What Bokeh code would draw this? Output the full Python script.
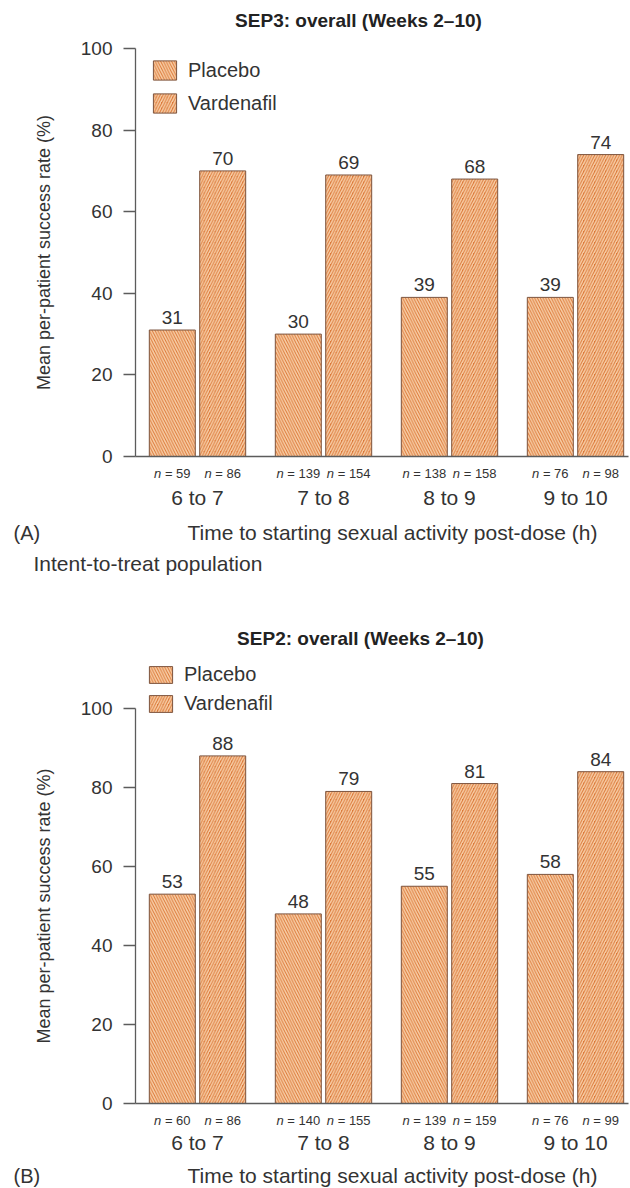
from bokeh.plotting import figure
from bokeh.models import (Range1d, FixedTicker, Legend, LegendItem, Label,
                          LabelSet, ColumnDataSource)
from bokeh.layouts import column
from bokeh.transform import dodge
from bokeh.embed import file_html
from bokeh.resources import INLINE
from bokeh.core.properties import value

# ---------------- data ----------------
categories = ["6 to 7", "7 to 8", "8 to 9", "9 to 10"]
series = ["Placebo", "Vardenafil"]

sep3_title = "SEP3: overall (Weeks 2\u201310)"
sep3_placebo = [31, 30, 39, 39]
sep3_vardenafil = [70, 69, 68, 74]
sep3_n_placebo = [59, 139, 138, 76]
sep3_n_vardenafil = [86, 154, 158, 98]

sep2_title = "SEP2: overall (Weeks 2\u201310)"
sep2_placebo = [53, 48, 55, 58]
sep2_vardenafil = [88, 79, 81, 84]
sep2_n_placebo = [60, 140, 139, 76]
sep2_n_vardenafil = [86, 155, 159, 99]

y_ticks = [0, 20, 40, 60, 80, 100]
y_title = "Mean per-patient success rate (%)"
x_title = "Time to starting sexual activity post-dose (h)"
population_note = "Intent-to-treat population"

# ---------------- style ----------------
FONT = "Liberation Sans"
TEXT = "#333333"
AXIS = "#5c5c5c"
FILL = "#db7838"
HATCH = "#f8cfa8"
EDGE = "#7d5640"

FIG_W = 630
AXIS_X = 135          # x of the value axis
FIRST_GROUP_X = 197   # centre of first group
PX_PER_GROUP = 126.0
DODGE = 0.2
BAR_W = 0.365


def gx(px):
    """horizontal pixel -> group coordinate"""
    return (px - FIRST_GROUP_X) / PX_PER_GROUP


def text_w(s, size):
    w = 0.0
    for ch in s:
        if ch == " ":
            w += 0.278
        elif ch == "=":
            w += 0.584
        else:
            w += 0.556
    return w * size


def make_chart(title, placebo, vard, n_p, n_v, letter, top, fig_h, zero_px,
               ppu, title_y, title_x, n_y, xtitle_y, cat_standoff,
               legend_xy, glyph_h, legend_spacing, label_h, note_y=None):
    def gy(py):
        return (zero_px - py) / ppu

    p = figure(width=FIG_W, height=fig_h,
               x_range=Range1d(gx(0), gx(FIG_W)),
               y_range=Range1d(gy(top + fig_h), gy(top)),
               output_backend="svg", toolbar_location=None,
               min_border=0, min_border_left=0, min_border_right=0,
               min_border_top=0, min_border_bottom=0)
    p.outline_line_color = None
    p.xgrid.visible = False
    p.ygrid.visible = False
    p.background_fill_color = "white"
    p.border_fill_color = "white"

    xs = list(range(len(categories)))
    NS = 13
    SP = text_w(" ", NS)

    def offs(ns):
        out = []
        for n in ns:
            total = text_w("n", NS) + SP + text_w("= %d" % n, NS)
            out.append(-total / 2.0 + text_w("n", NS))
        return out

    np_off = offs(n_p)
    nv_off = offs(n_v)
    src = ColumnDataSource(dict(
        x=xs, placebo=placebo, vard=vard,
        placebo_lbl=[str(v) for v in placebo],
        vard_lbl=[str(v) for v in vard],
        n_sym=["n"] * len(xs),
        np_rest=["= %d" % n for n in n_p],
        nv_rest=["= %d" % n for n in n_v],
        np_off=np_off, nv_off=nv_off,
        np_off2=[o + SP for o in np_off], nv_off2=[o + SP for o in nv_off],
    ))

    common = dict(source=src, width=BAR_W, fill_color=FILL,
                  hatch_color=HATCH, hatch_scale=5.5, hatch_weight=1.5,
                  line_color=EDGE, line_width=1)
    r1 = p.vbar(x=dodge("x", -DODGE, range=p.x_range), top="placebo",
                hatch_pattern="left_diagonal_line", **common)
    r2 = p.vbar(x=dodge("x", DODGE, range=p.x_range), top="vard",
                hatch_pattern="right_diagonal_line", **common)

    for key, off in (("placebo", -DODGE), ("vard", DODGE)):
        p.text(x=dodge("x", off, range=p.x_range), y=key,
               text=key + "_lbl", source=src, text_align="center",
               text_baseline="bottom", y_offset=-6,
               text_font=value(FONT), text_font_size="19px",
               text_color=TEXT)

    for off, rest, xo, xo2 in ((-DODGE, "np_rest", "np_off", "np_off2"),
                               (DODGE, "nv_rest", "nv_off", "nv_off2")):
        p.add_layout(LabelSet(x=dodge("x", off, range=p.x_range), y=gy(n_y),
                              text="n_sym", source=src, x_offset=xo,
                              text_align="right",
                              text_baseline="middle", text_font=value(FONT),
                              text_font_style="italic",
                              text_font_size="%dpx" % NS, text_color=TEXT))
        p.add_layout(LabelSet(x=dodge("x", off, range=p.x_range), y=gy(n_y),
                              text=rest, source=src, x_offset=xo2,
                              text_align="left",
                              text_baseline="middle", text_font=value(FONT),
                              text_font_size="%dpx" % NS, text_color=TEXT))

    # category axis, drawn at value 0
    xa = p.xaxis[0]
    xa.fixed_location = 0
    xa.bounds = (gx(AXIS_X), gx(FIG_W - 2))
    xa.ticker = FixedTicker(ticks=xs)
    xa.major_label_overrides = {i: c for i, c in zip(xs, categories)}
    xa.major_tick_out = 0
    xa.major_tick_in = 0
    xa.minor_tick_line_color = None
    xa.major_tick_line_color = None
    xa.axis_line_color = AXIS
    xa.axis_line_width = 1.3
    xa.major_label_standoff = cat_standoff
    xa.major_label_text_font = FONT
    xa.major_label_text_font_size = "21px"
    xa.major_label_text_color = TEXT

    ya = p.yaxis[0]
    ya.fixed_location = gx(AXIS_X)
    ya.ticker = FixedTicker(ticks=y_ticks)
    ya.bounds = (0, 100)
    ya.major_tick_out = 12
    ya.major_tick_in = 0
    ya.minor_tick_line_color = None
    ya.major_tick_line_color = AXIS
    ya.major_tick_line_width = 1.3
    ya.axis_line_color = AXIS
    ya.axis_line_width = 1.3
    ya.major_label_standoff = 11
    ya.major_label_text_font = FONT
    ya.major_label_text_font_size = "19px"
    ya.major_label_text_color = TEXT
    ya.axis_label = y_title
    ya.axis_label_text_font = FONT
    ya.axis_label_text_font_size = "18px"
    ya.axis_label_text_font_style = "normal"
    ya.axis_label_text_color = TEXT
    ya.axis_label_standoff = 24

    legend = Legend(items=[LegendItem(label=series[0], renderers=[r1]),
                           LegendItem(label=series[1], renderers=[r2])],
                    location=legend_xy, margin=0, padding=0,
                    border_line_color=None, background_fill_alpha=0,
                    glyph_width=29, glyph_height=glyph_h,
                    label_height=label_h,
                    label_standoff=9, spacing=legend_spacing,
                    label_text_font=FONT, label_text_font_size="20px",
                    label_text_color=TEXT)
    p.add_layout(legend)

    p.add_layout(Label(x=gx(title_x), y=gy(title_y), text=title,
                       text_align="center", text_baseline="middle",
                       text_font=FONT, text_font_style="bold",
                       text_font_size="19px", text_color="#222222"))
    p.add_layout(Label(x=gx(392), y=gy(xtitle_y), text=x_title,
                       text_align="center", text_baseline="middle",
                       text_font=FONT, text_font_size="21px",
                       text_color=TEXT))
    p.add_layout(Label(x=gx(13), y=gy(xtitle_y), text=letter,
                       text_align="left", text_baseline="middle",
                       text_font=FONT, text_font_size="20px",
                       text_color=TEXT))
    if note_y is not None:
        p.add_layout(Label(x=gx(33), y=gy(note_y), text=population_note,
                           text_align="left", text_baseline="middle",
                           text_font=FONT, text_font_size="21px",
                           text_color=TEXT))
    return p


H1 = 590
H2 = 598
p1 = make_chart(sep3_title, sep3_placebo, sep3_vardenafil, sep3_n_placebo,
                sep3_n_vardenafil, "(A)", top=0, fig_h=H1, zero_px=456,
                ppu=4.08, title_y=20, title_x=358, n_y=473, xtitle_y=532,
                cat_standoff=29, legend_xy=(150, H1 - 115), glyph_h=24,
                legend_spacing=9, label_h=24, note_y=563)
p2 = make_chart(sep2_title, sep2_placebo, sep2_vardenafil, sep2_n_placebo,
                sep2_n_vardenafil, "(B)", top=H1, fig_h=H2, zero_px=1103,
                ppu=3.95, title_y=638, title_x=360, n_y=1120, xtitle_y=1175,
                cat_standoff=27, legend_xy=(146, H2 - 125), glyph_h=21,
                legend_spacing=6, label_h=23)

layout = column(p1, p2, spacing=0)
open("out.html", "w").write(file_html(layout, INLINE))
